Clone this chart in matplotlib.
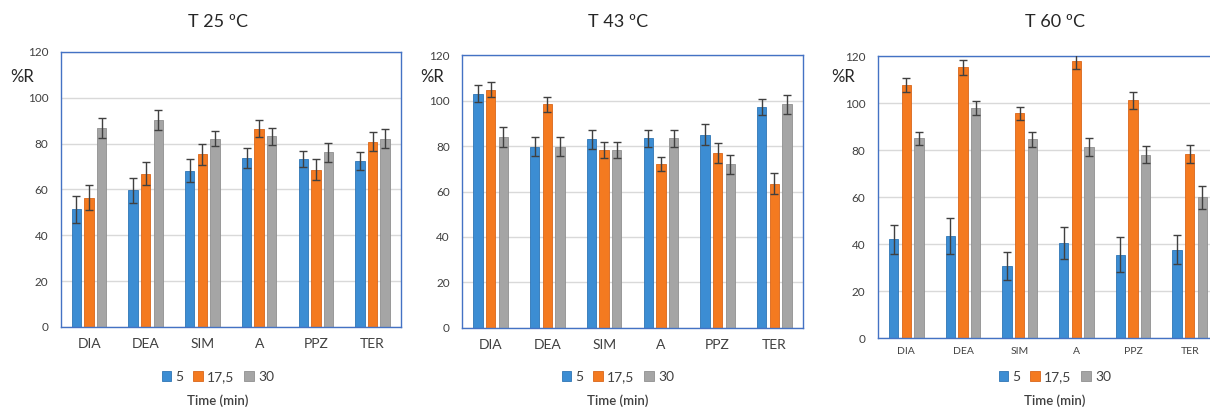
import numpy as np
import matplotlib
matplotlib.use("Agg")
import matplotlib.pyplot as plt

plt.rcParams['font.family'] = ['Lato', 'DejaVu Sans']

categories = ["DIA", "DEA", "SIM", "A", "PPZ", "TER"]
series = ["5", "17,5", "30"]
titles = ["T 25 ºC", "T 43 ºC", "T 60 ºC"]

# T 25
t25_5 = [51.3, 59.6, 68.2, 73.7, 73.3, 72.4]
t25_17 = [56.4, 66.9, 75.3, 86.5, 68.7, 80.9]
t25_30 = [87.0, 90.2, 82.2, 83.2, 76.2, 82.2]
t25_5_err = [6.0, 5.5, 5.0, 4.5, 3.6, 4.1]
t25_17_err = [5.5, 5.0, 4.7, 3.6, 4.5, 4.2]
t25_30_err = [4.4, 4.4, 3.3, 3.6, 4.2, 4.2]

# T 43
t43_5 = [103.1, 79.8, 83.0, 83.4, 85.0, 97.1]
t43_17 = [104.9, 98.4, 78.3, 72.3, 77.0, 63.5]
t43_30 = [83.9, 79.8, 78.3, 83.4, 72.0, 98.4]
t43_5_err = [3.7, 4.1, 4.3, 3.9, 4.7, 3.5]
t43_17_err = [3.4, 3.4, 3.7, 3.1, 4.5, 4.8]
t43_30_err = [4.5, 4.1, 3.4, 3.9, 4.1, 4.1]

# T 60
t60_5 = [42.1, 43.4, 30.6, 40.5, 35.6, 37.7]
t60_17 = [107.7, 115.2, 95.6, 118.0, 101.2, 78.4]
t60_30 = [85.0, 97.9, 84.6, 81.3, 78.1, 59.9]
t60_5_err = [6.1, 7.6, 6.0, 7.0, 7.3, 6.1]
t60_17_err = [2.8, 3.1, 2.6, 3.5, 3.7, 3.7]
t60_30_err = [2.8, 3.1, 3.2, 3.7, 3.7, 4.8]

panels = [
    ([t25_5, t25_17, t25_30], [t25_5_err, t25_17_err, t25_30_err]),
    ([t43_5, t43_17, t43_30], [t43_5_err, t43_17_err, t43_30_err]),
    ([t60_5, t60_17, t60_30], [t60_5_err, t60_17_err, t60_30_err]),
]

colors = ["#3C8DD3", "#F47A20", "#A5A5A5"]
edges = ["#2F75B5", "#D9661A", "#909090"]
spine_col = "#4472C4"
text_col = "#404040"

# [left, bottom, width, height] in figure fraction
positions = [
    [0.0502, 0.1966, 0.2811, 0.6757],
    [0.3821, 0.1948, 0.2813, 0.6693],
    [0.7256, 0.1688, 0.2810, 0.6936],
]
xtick_size = [10, 10, 7.5]
title_x = [218, 618, 1055]
ylab_x = [22, 432, 843]

fig = plt.figure(figsize=(12.1, 4.07), dpi=100)
W, H = 1210, 407

x = np.arange(len(categories))
offs = [-0.223, 0.0, 0.223]
bw = 0.165

for i, (vals, errs) in enumerate(panels):
    ax = fig.add_axes(positions[i])
    handles = []
    for k in range(3):
        b = ax.bar(x + offs[k], vals[k], bw, color=colors[k], edgecolor=edges[k],
                   linewidth=0.6, zorder=2, label=series[k])
        ax.errorbar(x + offs[k], vals[k], yerr=errs[k], fmt='none', ecolor='#404040',
                    elinewidth=1.0, capsize=3, capthick=1.0, zorder=3)
        handles.append(b)
    ax.set_xlim(-0.5, 5.5)
    ax.set_ylim(0, 120)
    ax.set_yticks(range(0, 121, 20))
    ax.yaxis.grid(True, color="#D9D9D9", linewidth=1.0, zorder=0)
    ax.set_axisbelow(True)
    ax.set_xticks(x)
    ax.set_xticklabels(categories)
    for s in ax.spines.values():
        s.set_color(spine_col)
        s.set_linewidth(1.0)
    ax.tick_params(axis='y', length=0, pad=9, labelsize=8.5, labelcolor=text_col)
    ax.tick_params(axis='x', length=0, pad=8 if i < 2 else 6,
                   labelsize=xtick_size[i], labelcolor=text_col)

    pos = positions[i]
    cx = (pos[0] + pos[2] / 2)
    if i == 2:
        cx = (878 + 340 / 2) / W
    fig.text(title_x[i] / W, 1 - 22 / H, titles[i], ha='center', va='center',
             fontsize=13, color='#262626')
    fig.text(ylab_x[i] / W, 1 - 77 / H, "%R", ha='center', va='center',
             fontsize=12, color='#262626')
    leg = fig.legend(handles=handles, labels=series, loc='center',
                     bbox_to_anchor=(title_x[i] / W, 1 - 377 / H), ncol=3,
                     frameon=False, fontsize=10, handlelength=0.7, handleheight=0.7,
                     handletextpad=0.3, columnspacing=0.7, labelcolor=text_col)
    fig.text(title_x[i] / W, 1 - 401 / H, "Time (min)", ha='center', va='center',
             fontsize=9.5, fontweight='semibold', color=text_col)

fig.savefig("out.png", dpi=100)
